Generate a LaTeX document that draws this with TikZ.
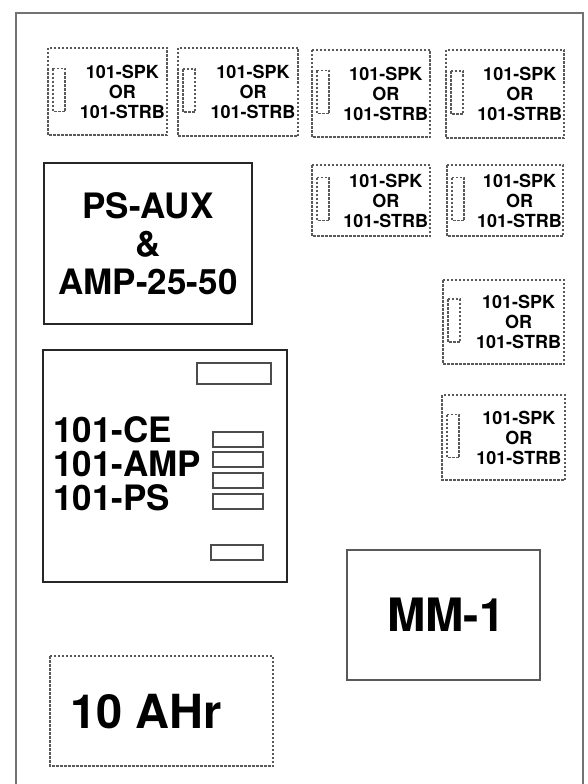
\documentclass[tikz,border=0pt]{standalone}
\usepackage{fontspec}
\setmainfont{TeX Gyre Heros}
\tikzset{
  frameline/.style={line width=2.4pt, color=black!55},
  solidbox/.style={draw=black!85, line width=1.8pt},
  dbox/.style={draw=black!65, line width=1.5pt, dash pattern=on 2.5pt off 1.5pt},
  slot/.style={draw=black!70, line width=1.3pt},
  smalltxt/.style={font=\fontsize{18}{20}\selectfont\bfseries, align=center, inner sep=0pt},
  bigtxt/.style={font=\fontsize{35}{38}\selectfont\bfseries, align=center, inner sep=0pt},
}
\newcommand\spkbox[5]{%
  \draw[dbox] (#2,#3) rectangle (#4,#5);
  \coordinate (#1-c) at ({#2+0.625*(#4-#2)},{(#3+#5)/2});
  \draw[dbox] ({#2+5},{(#3+#5)/2-23}) rectangle ({#2+17},{(#3+#5)/2+20});
  \node[smalltxt] (#1) at (#1-c) {101-SPK\\OR\\101-STRB};
}
\begin{document}
\begin{tikzpicture}[x=1pt,y=-1pt]
\useasboundingbox (0,0) rectangle (587,784);
\fill[white] (0,0) rectangle (587,784);
% outer frame
\coordinate (fbl) at (16,784);
\coordinate (ftl) at (16,13);
\coordinate (ftr) at (583,13);
\coordinate (fbr) at (583,784);
\draw[frameline] (fbl) -- (ftl) -- (ftr) -- (fbr);
% speaker/strobe boxes
\spkbox{s1}{48}{48}{167}{135}
\spkbox{s2}{178}{48}{298}{136}
\spkbox{s3}{312}{50}{430}{137}
\spkbox{s4}{446}{50}{564}{138}
\spkbox{s5}{312}{165}{430}{236}
\spkbox{s6}{447}{165}{563}{236}
\spkbox{s7}{443}{280}{564}{364}
\spkbox{s8}{442}{395}{565}{480}
% PS-AUX box
\draw[solidbox] (44,163) rectangle (252,324);
\node[bigtxt] (psaux) at (148,244) {PS-AUX\\\&\\AMP-25-50};
% 101-CE box
\draw[solidbox] (43,350) rectangle (287,582);
\node[font=\fontsize{35}{34}\selectfont\bfseries, align=left, inner sep=0pt, anchor=west] (ce) at (53,464) {101-CE\\101-AMP\\101-PS};
\draw[slot, line width=1.6pt] (197,363) rectangle (271,384);
\draw[slot] (213,432) rectangle (263,447);
\draw[slot] (213,452) rectangle (263,467);
\draw[slot] (213,473) rectangle (263,488);
\draw[slot] (213,494) rectangle (263,509);
\draw[slot] (211,545) rectangle (263,560);
% MM-1
\draw[solidbox, draw=black!65] (347,550) rectangle (540,680);
\node[font=\fontsize{46}{46}\selectfont\bfseries, inner sep=0pt] (mm) at (446,615) {MM-1};
% battery
\draw[dbox] (50,656) rectangle (273,766);
\node[font=\fontsize{47}{47}\selectfont\bfseries, inner sep=0pt] (bat) at (146,712) {10 AHr};
\end{tikzpicture}
\end{document}
